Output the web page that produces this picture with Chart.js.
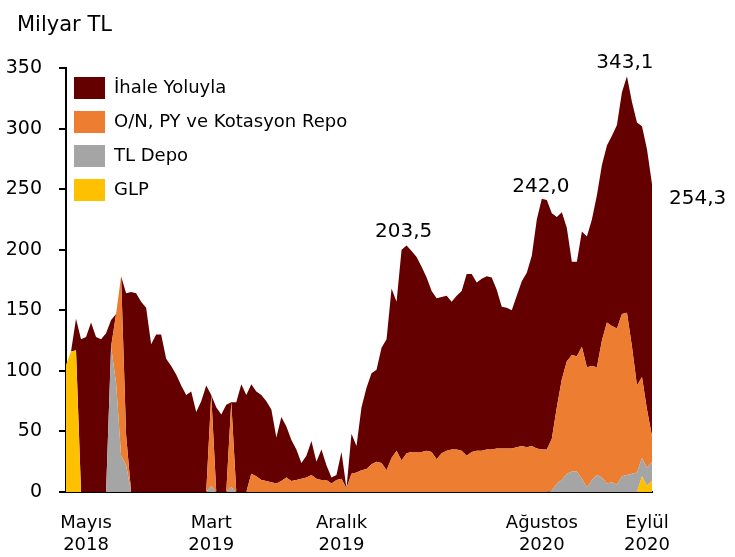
<!DOCTYPE html>
<html>
<head>
<meta charset="utf-8">
<script src="https://cdn.jsdelivr.net/npm/chart.js@4"></script>
<style>
  body { margin: 0; background: #fff; }
  canvas { display: block; }
</style>
</head>
<body>
<canvas id="myChart" width="735" height="557"></canvas>
<script>
// Stacked areas, bottom to top: GLP, TL Depo, O/N repo, İhale (billion TL)
let glp = [
  105,116,117,0,0,0,0,0,0,0,
  0,0,0,0,0,0,0,0,0,0,
  0,0,0,0,0,0,0,0,0,0,
  0,0,0,0,0,0,0,0,0,0,
  0,0,0,0,0,0,0,0,0,0,
  0,0,0,0,0,0,0,0,0,0,
  0,0,0,0,0,0,0,0,0,0,
  0,0,0,0,0,0,0,0,0,0,
  0,0,0,0,0,0,0,0,0,0,
  0,0,0,0,0,0,0,0,0,0,
  0,0,0,0,0,0,0,0,0,0,
  0,0,0,0,0,13,5,9
];
let tlDepo = [
  0,0,0,0,0,0,0,0,0,120,
  90,30,22,0,0,0,0,0,0,0,
  0,0,0,0,0,0,0,0,0,5,
  0,0,0,4,0,0,0,0,0,0,
  0,0,0,0,0,0,0,0,0,0,
  0,0,0,0,0,0,0,0,0,0,
  0,0,0,0,0,0,0,0,0,0,
  0,0,0,0,0,0,0,0,0,0,
  0,0,0,0,0,0,0,0,0,0,
  0,0,0,0,0,0,0,1,7,10,
  15,17,17,11,4,10,14,12,7,8,
  6,13,14,15,16,15,15,16
];
let onRepo = [
  0,0,0,0,0,0,0,0,0,0,
  57,148,25,0,0,0,0,0,0,0,
  0,0,0,0,0,0,0,0,0,75,
  0,0,0,70,0,0,0,15,13,10,
  9,8,7,9,12,9,10,11,12,14,
  11,10,10,7,10,11,3,15,16,18,
  19,23,25,24,18,28,34,26,32,33,
  33,33,34,33,27,32,34,35,35,34,
  30,33,34,34,35,35,36,36,36,36,
  37,38,37,38,36,35,35,43,63,83,
  93,96,95,109,99,94,89,113,133,129,
  129,134,134,105,72,67,48,21
];
let ihale = [
  0,0,26,126,128,140,128,126,131,22,
  0,0,117,165,164,157,152,122,130,130,
  110,104,97,88,80,83,66,75,88,0,
  70,64,72,0,74,89,80,74,70,70,
  66,60,38,53,42,34,25,13,18,28,
  14,25,12,5,4,22,0,33,22,52,
  67,75,76,95,108,140,123,174,171.5,166,
  161,153,143,133,133,129,128,122,127,132,
  150,147,139,142,143,142,131,117,116,114,
  125,136,144,157,189,207,206,186,157,138,
  110,77,78,95,108,121,142,145,146,157,
  168,183,195.1,202,217,207,215,208.3
];

// x axis labels
let tickIndex = [4, 29, 55, 95, 116];
let tickMonths = ['Mayıs', 'Mart', 'Aralık', 'Ağustos', 'Eylül'];
let tickYears = ['2018', '2019', '2019', '2020', '2020'];

// points that get a value label
let peakIndex = [68, 95, 112, 117];

let labels = [];
for (let i = 0; i < ihale.length; i++) labels.push('');
tickIndex.forEach(function(idx, k) { labels[idx] = [tickMonths[k], tickYears[k]]; });

const FONT = '"DejaVu Sans", Verdana, sans-serif';

// label placement relative to the point
let peakStyle = [
  {dx: -3, dy: -8, align: 'center'},
  {dx: -1, dy: -7, align: 'center'},
  {dx: -2, dy: -8, align: 'center'},
  {dx: 17, dy: 20, align: 'left'}
];

const textPlugin = {
  id: 'texts',
  afterLayout(chart) {
    // keep the legend inside the top-left corner of the plot
    const lg = chart.legend;
    const w = lg.width, h = lg.height;
    lg.left = chart.chartArea.left - 4;
    lg.top = chart.chartArea.top - 3;
    lg.right = lg.left + w;
    lg.bottom = lg.top + h;
  },
  afterDatasetsDraw(chart) {
    const c = chart.ctx;
    const meta = chart.getDatasetMeta(3);
    c.save();
    c.fillStyle = '#000';
    c.textBaseline = 'alphabetic';
    c.font = '20px ' + FONT;
    peakIndex.forEach(function(idx, k) {
      const pt = meta.data[idx];
      const total = glp[idx] + tlDepo[idx] + onRepo[idx] + ihale[idx];
      const txt = total.toFixed(1).replace('.', ',');
      c.textAlign = peakStyle[k].align;
      c.fillText(txt, pt.x + peakStyle[k].dx, pt.y + peakStyle[k].dy);
    });
    // unit title
    c.textAlign = 'left';
    c.font = '21px ' + FONT;
    c.fillText('Milyar TL', 17, 31);
    c.restore();
  }
};

let ctx = document.getElementById('myChart').getContext('2d');
let chart = new Chart(ctx, {
  type: 'line',
  data: {
    labels: labels,
    datasets: [
      {label: 'GLP', data: glp, backgroundColor: '#FFC000', fill: 'origin'},
      {label: 'TL Depo', data: tlDepo, backgroundColor: '#A5A5A5', fill: '-1'},
      {label: 'O/N, PY ve Kotasyon Repo', data: onRepo, backgroundColor: '#ED7D31', fill: '-1'},
      {label: 'İhale Yoluyla', data: ihale, backgroundColor: '#640000', fill: '-1'}
    ]
  },
  options: {
    responsive: false,
    devicePixelRatio: 1,
    animation: false,
    layout: {padding: {top: 68, right: 83, left: 0, bottom: 0}},
    elements: {
      line: {borderWidth: 0, borderColor: 'transparent', tension: 0},
      point: {radius: 0}
    },
    scales: {
      x: {
        offset: false,
        grid: {display: false, drawTicks: false},
        border: {display: true, color: '#000', width: 2},
        ticks: {
          autoSkip: false, maxRotation: 0, padding: 20, color: '#000',
          font: {family: FONT, size: 18, lineHeight: 1.25}
        },
        afterFit: function(scale) { scale.height = 65; }
      },
      y: {
        stacked: true,
        min: 0, max: 350,
        grid: {display: true, drawOnChartArea: false, drawTicks: true, tickLength: 7, color: '#000', lineWidth: 2},
        border: {display: true, color: '#000', width: 2},
        ticks: {stepSize: 50, padding: 17, color: '#000', font: {family: FONT, size: 19}},
        afterFit: function(scale) { scale.width = 66; }
      }
    },
    plugins: {
      tooltip: {enabled: false},
      legend: {
        position: 'chartArea',
        align: 'start',
        reverse: true,
        labels: {
          boxWidth: 31, boxHeight: 22, padding: 12, color: '#000',
          font: {family: FONT, size: 18}
        }
      }
    }
  },
  plugins: [textPlugin]
});
</script>
</body>
</html>
